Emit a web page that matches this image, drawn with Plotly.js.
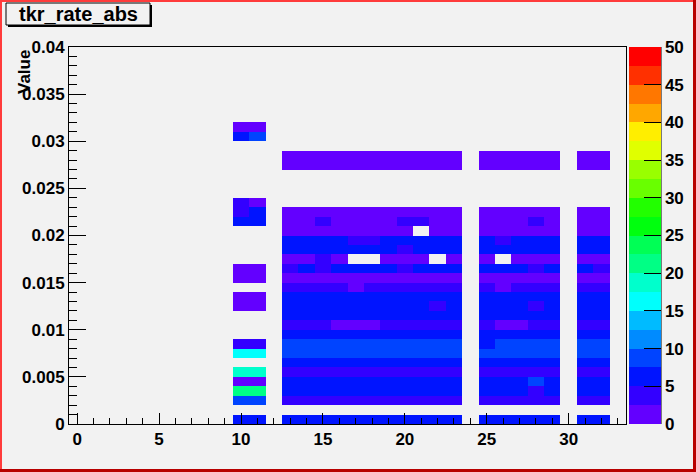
<!DOCTYPE html>
<html>
<head>
<meta charset="utf-8">
<script src="https://cdn.plot.ly/plotly-3.0.1.min.js"></script>
<style>
  html, body { margin: 0; padding: 0; background: #f2f2f2; }
  #chart { width: 696px; height: 472px; }
</style>
</head>
<body>
<div id="chart"></div>
<script>
// ---- data ----
const n = null;
const xBins = [];               // bin centres 0..33
for (let i = 0; i <= 33; i++) xBins.push(i);
const yCenters = [];            // bin centres of 40 bins, width 0.001
for (let j = 0; j < 40; j++) yCenters.push(+(0.0005 + 0.001 * j).toFixed(4));

// filled x columns
const xCols = [10, 11, 13, 14, 15, 16, 17, 18, 19, 20, 21, 22, 23, 25, 26, 27, 28, 29, 31, 32];

// z values per y bin (row index = y bin), over xCols
const row31 = [1, 1, n, n, n, n, n, n, n, n, n, n, n, n, n, n, n, n, n, n];
const row30 = [6, 9, n, n, n, n, n, n, n, n, n, n, n, n, n, n, n, n, n, n];
const row28 = [n, n, 1, 1, 1, 1, 1, 1, 1, 1, 1, 1, 1, 1, 1, 1, 1, 1, 1, 1];
const row27 = [n, n, 1, 1, 1, 1, 1, 1, 1, 1, 1, 1, 1, 1, 1, 1, 1, 1, 1, 1];
const row23 = [4, 1, n, n, n, n, n, n, n, n, n, n, n, n, n, n, n, n, n, n];
const row22 = [4, 6, 1, 1, 1, 1, 1, 1, 1, 1, 1, 1, 1, 1, 1, 1, 1, 1, 1, 1];
const row21 = [6, 6, 1, 1, 4, 1, 1, 1, 1, 4, 4, 1, 1, 1, 1, 1, 4, 1, 1, 1];
const row20 = [n, n, 1, 1, 1, 1, 1, 1, 1, 1, n, 1, 1, 1, 1, 1, 1, 1, 1, 1];
const row19 = [n, n, 6, 6, 6, 6, 4, 4, 6, 6, 6, 6, 6, 6, 4, 6, 6, 6, 6, 6];
const row18 = [n, n, 6, 6, 6, 6, 6, 6, 6, 4, 6, 6, 6, 6, 6, 6, 6, 6, 6, 6];
const row17 = [n, n, 1, 1, 4, 1, n, n, 1, 1, 1, n, 1, 1, n, 1, 1, 1, 1, 1];
const row16 = [1, 1, 4, 6, 4, 6, 6, 6, 6, 4, 6, 6, 6, 6, 6, 6, 4, 6, 6, 4];
const row15 = [1, 1, 1, 1, 1, 1, 1, 1, 1, 1, 1, 1, 1, 1, 1, 1, 1, 1, 1, 1];
const row14 = [n, n, 4, 4, 4, 4, 1, 4, 4, 4, 4, 4, 4, 4, 1, 4, 4, 4, 4, 4];
const row13 = [1, 1, 6, 6, 6, 6, 6, 6, 6, 6, 6, 6, 6, 6, 6, 6, 6, 6, 6, 6];
const row12 = [1, 1, 6, 6, 6, 6, 6, 6, 6, 6, 6, 4, 6, 6, 6, 6, 4, 6, 6, 6];
const row11 = [n, n, 6, 6, 6, 6, 6, 6, 6, 6, 6, 6, 6, 6, 6, 6, 6, 6, 6, 6];
const row10 = [n, n, 4, 4, 4, 1, 1, 1, 4, 4, 4, 4, 4, 4, 1, 1, 4, 4, 4, 4];
const row09 = [n, n, 6, 6, 6, 6, 6, 6, 6, 6, 6, 6, 6, 6, 6, 6, 6, 6, 6, 6];
const row08 = [4, 4, 9, 9, 9, 9, 9, 9, 9, 9, 9, 9, 9, 6, 9, 9, 9, 9, 9, 9];
const row07 = [16, 16, 9, 9, 9, 9, 9, 9, 9, 9, 9, 9, 9, 9, 9, 9, 9, 9, 9, 9];
const row06 = [n, n, 6, 6, 6, 6, 6, 6, 6, 6, 6, 6, 6, 6, 6, 6, 6, 6, 6, 6];
const row05 = [19, 19, 4, 4, 4, 4, 4, 4, 4, 4, 4, 4, 4, 4, 4, 4, 4, 4, 4, 4];
const row04 = [1, 1, 6, 6, 6, 6, 6, 6, 6, 6, 6, 6, 6, 6, 6, 6, 9, 6, 6, 6];
const row03 = [21, 21, 6, 6, 6, 6, 6, 6, 6, 6, 6, 6, 6, 6, 6, 6, 4, 6, 6, 6];
const row02 = [9, 9, 4, 4, 4, 4, 4, 4, 4, 4, 4, 4, 4, 4, 4, 4, 4, 4, 4, 4];
const row00 = [6, 6, 6, 6, 6, 6, 6, 6, 6, 6, 6, 6, 6, 6, 6, 6, 6, 6, 6, 6];

const rowsByBin = {
  31: row31, 30: row30, 28: row28, 27: row27, 23: row23, 22: row22, 21: row21,
  20: row20, 19: row19, 18: row18, 17: row17, 16: row16, 15: row15, 14: row14,
  13: row13, 12: row12, 11: row11, 10: row10, 9: row09, 8: row08, 7: row07,
  6: row06, 5: row05, 4: row04, 3: row03, 2: row02, 0: row00
};

const zTicks = [0, 5, 10, 15, 20, 25, 30, 35, 40, 45, 50];

// ROOT-like 20-level palette
const levelColors = ['#6300ff', '#3300ff', '#0014ff', '#0044ff', '#008bff', '#00bbff',
  '#00fffc', '#00ffcc', '#00ff85', '#00ff55', '#00ff0e', '#22ff00', '#69ff00', '#99ff00',
  '#e0ff00', '#ffee00', '#ffa700', '#ff7700', '#ff3000', '#ff0000'];

// ---- build grid ----
const z = [];
for (let j = 0; j < 40; j++) {
  const row = new Array(xBins.length).fill(null);
  const src = rowsByBin[j];
  if (src) xCols.forEach((xc, k) => { row[xBins.indexOf(xc)] = src[k]; });
  z.push(row);
}
const colorscale = [];
levelColors.forEach((c, i) => {
  colorscale.push([i / levelColors.length, c]);
  colorscale.push([(i + 1) / levelColors.length, c]);
});

// ---- geometry helpers (pixels -> paper) ----
const W = 696, H = 472, ML = 69, MR = 70, MT = 47, MB = 48;
const PW = W - ML - MR, PH = H - MT - MB;
const px = v => (v - ML) / PW;
const py = v => (H - MB - v) / PH;

const FONT = 'Liberation Sans, Arial, Helvetica, sans-serif';
const tickFont = { family: FONT, size: 17, color: '#000', weight: 'bold' };

const trace = {
  type: 'heatmap',
  x: xBins, y: yCenters, z: z,
  zmin: 0, zmax: 50,
  colorscale: colorscale,
  hoverongaps: false,
  colorbar: {
    x: px(629), xanchor: 'left', xref: 'paper',
    y: 0, yanchor: 'bottom', len: 1, lenmode: 'fraction',
    thickness: 32, thicknessmode: 'pixels',
    xpad: 0, ypad: 0, outlinewidth: 0,
    tickmode: 'array', tickvals: zTicks,
    ticks: 'inside', ticklen: 17, tickcolor: '#000', tickwidth: 1,
    tickfont: tickFont
  }
};

const shapes = [
  // colorbar right axis line
  { type: 'line', xref: 'paper', yref: 'paper', x0: px(661), x1: px(661), y0: 0, y1: 1,
    line: { color: '#000', width: 1 }, layer: 'above' },
  // title box shadow + box
  { type: 'rect', xref: 'paper', yref: 'paper', x0: px(8), x1: px(152), y0: py(5), y1: py(27),
    fillcolor: '#000', line: { width: 0 }, layer: 'above' },
  { type: 'rect', xref: 'paper', yref: 'paper', x0: px(6), x1: px(150), y0: py(3), y1: py(25),
    fillcolor: '#f2f2f2', line: { color: '#000', width: 1 }, layer: 'above' },
  // canvas border
  { type: 'line', xref: 'paper', yref: 'paper', x0: px(1), x1: px(1), y0: py(0), y1: py(472),
    line: { color: '#ff3c3c', width: 2 }, layer: 'above' },
  { type: 'line', xref: 'paper', yref: 'paper', x0: px(0), x1: px(696), y0: py(1), y1: py(1),
    line: { color: '#ff3c3c', width: 2 }, layer: 'above' },
  { type: 'line', xref: 'paper', yref: 'paper', x0: px(694.5), x1: px(694.5), y0: py(0), y1: py(472),
    line: { color: '#b80000', width: 3 }, layer: 'above' },
  { type: 'line', xref: 'paper', yref: 'paper', x0: px(0), x1: px(696), y0: py(470.5), y1: py(470.5),
    line: { color: '#b80000', width: 3 }, layer: 'above' }
];

const layout = {
  width: W, height: H,
  margin: { l: ML, r: MR, t: MT, b: MB, pad: 0, autoexpand: false },
  paper_bgcolor: '#f2f2f2', plot_bgcolor: '#f2f2f2',
  font: { family: FONT, color: '#000' },
  showlegend: false,
  xaxis: {
    range: [-0.5, 33.5], tick0: 0, dtick: 5, showgrid: false, zeroline: false,
    showline: true, mirror: true, linecolor: '#000', linewidth: 1,
    ticks: 'inside', ticklen: 11, tickcolor: '#000', tickwidth: 1,
    minor: { dtick: 1, ticks: 'inside', ticklen: 6, tickcolor: '#000', tickwidth: 1, showgrid: false },
    tickfont: tickFont
  },
  yaxis: {
    range: [0, 0.04], tick0: 0, dtick: 0.005, showgrid: false, zeroline: false,
    showline: true, mirror: true, linecolor: '#000', linewidth: 1,
    ticks: 'inside', ticklen: 17, tickcolor: '#000', tickwidth: 1,
    minor: { dtick: 0.001, ticks: 'inside', ticklen: 8, tickcolor: '#000', tickwidth: 1, showgrid: false },
    tickfont: tickFont
  },
  shapes: shapes,
  annotations: [
    { text: 'tkr_rate_abs', xref: 'paper', yref: 'paper', x: px(78), y: py(14),
      xanchor: 'center', yanchor: 'middle', showarrow: false,
      font: { family: FONT, size: 20, color: '#000', weight: 'bold' } },
    { text: 'Value', xref: 'paper', yref: 'paper', x: px(24), y: py(48),
      xanchor: 'center', yanchor: 'top', textangle: -90, showarrow: false,
      font: { family: FONT, size: 17, color: '#000', weight: 'bold' } }
  ]
};

Plotly.newPlot('chart', [trace], layout, { staticPlot: true, displayModeBar: false });
</script>
</body>
</html>
